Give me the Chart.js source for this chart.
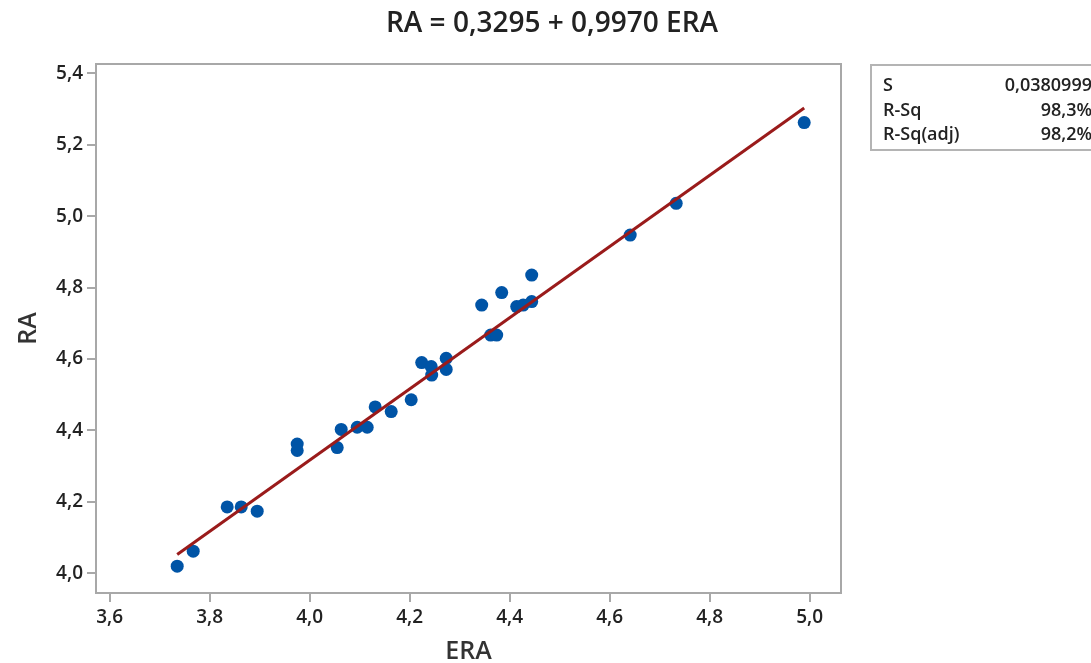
<!DOCTYPE html>
<html>
<head>
<meta charset="utf-8">
<script src="https://cdn.jsdelivr.net/npm/chart.js@4/dist/chart.umd.min.js"></script>
<style>
  body { margin: 0; background: #fff; overflow: hidden; }
  #wrap { position: relative; width: 1091px; height: 663px; }
  #stats {
    position: absolute; left: 870px; top: 64px; width: 240px; height: 87px;
    border: 2px solid #b4b4b4; box-sizing: border-box;
    font-family: "Open Sans", sans-serif; font-size: 18px; font-weight: 600; color: #222;
  }
  #stats table { border-collapse: collapse; margin-top: 6px; margin-left: 11px; }
  #stats td { padding: 0; height: 24.5px; line-height: 18px; }
  #stats td.v { text-align: right; width: 125px; }
</style>
</head>
<body>
<div id="wrap">
  <canvas id="chart"></canvas>
  <div id="stats">
    <table>
      <tr><td style="width:84px">S</td><td class="v">0,0380999</td></tr>
      <tr><td>R-Sq</td><td class="v">98,3%</td></tr>
      <tr><td>R-Sq(adj)</td><td class="v">98,2%</td></tr>
    </table>
  </div>
</div>
<script>
const era = [3.735, 3.767, 3.835, 3.863, 3.895, 3.975, 3.975, 4.055, 4.063, 4.095,
             4.115, 4.131, 4.163, 4.203, 4.224, 4.243, 4.244, 4.273, 4.273, 4.344,
             4.362, 4.374, 4.384, 4.414, 4.427, 4.444, 4.444, 4.641, 4.733, 4.989];
const ra  = [4.020, 4.062, 4.186, 4.186, 4.174, 4.362, 4.344, 4.352, 4.403, 4.409,
             4.409, 4.466, 4.453, 4.486, 4.590, 4.579, 4.555, 4.602, 4.571, 4.751,
             4.667, 4.667, 4.786, 4.747, 4.751, 4.761, 4.835, 4.947, 5.036, 5.262];

// fitted line end points  RA = 0,3295 + 0,9970 ERA
const fitEra = [3.735, 4.989];
const fitRa  = [4.053, 5.303];

const xTicks = [3.6, 3.8, 4.0, 4.2, 4.4, 4.6, 4.8, 5.0];
const yTicks = [4.0, 4.2, 4.4, 4.6, 4.8, 5.0, 5.2, 5.4];

const comma = v => v.toFixed(1).replace('.', ',');
const axisGray = '#a8a8a8';
const font = "'Open Sans', sans-serif";

// frame around the plot area (top and right sides too)
const frame = {
  id: 'frame',
  afterDraw(chart) {
    const a = chart.chartArea, ctx = chart.ctx;
    ctx.save();
    ctx.strokeStyle = axisGray;
    ctx.lineWidth = 2;
    ctx.strokeRect(a.left, a.top, a.right - a.left, a.bottom - a.top);
    ctx.restore();
  }
};

new Chart(document.getElementById('chart'), {
  type: 'scatter',
  data: {
    datasets: [
      {
        type: 'line',
        data: fitEra.map((x, i) => ({ x: x, y: fitRa[i] })),
        borderColor: '#9a1b1b',
        borderWidth: 3,
        pointRadius: 0,
        fill: false
      },
      {
        data: era.map((x, i) => ({ x: x, y: ra[i] })),
        backgroundColor: '#0054a6',
        borderWidth: 0,
        pointRadius: 6.5,
        pointHoverRadius: 6.5
      }
    ]
  },
  options: {
    responsive: true,
    maintainAspectRatio: false,
    animation: false,
    layout: { padding: { left: 13, right: 0, top: 0, bottom: 0 } },
    plugins: {
      legend: { display: false },
      tooltip: { enabled: false },
      title: {
        display: true,
        text: 'RA = 0,3295 + 0,9970 ERA',
        color: '#222',
        font: { family: font, size: 28, weight: '600', lineHeight: 1.2 },
        padding: { top: 7, bottom: 23.4 }
      }
    },
    scales: {
      x: {
        type: 'linear',
        min: 3.5726, max: 5.0626,
        afterBuildTicks: s => { s.ticks = xTicks.map(v => ({ value: v })); },
        afterFit: s => { s.height = 70; },
        grid: { drawOnChartArea: false, drawTicks: true, tickLength: 9, color: axisGray, lineWidth: 2 },
        border: { color: axisGray, width: 2 },
        ticks: { callback: v => comma(v), color: '#222', padding: 4, font: { family: font, size: 19, weight: '600' } },
        title: { display: true, text: 'ERA', color: '#333', padding: { top: 0, bottom: -1 },
                 font: { family: font, size: 25, weight: '600', lineHeight: 1 } }
      },
      y: {
        type: 'linear',
        min: 3.945, max: 5.426,
        afterBuildTicks: s => { s.ticks = yTicks.map(v => ({ value: v })); },
        afterFit: s => { s.width = 83; },
        grid: { drawOnChartArea: false, drawTicks: true, tickLength: 9, color: axisGray, lineWidth: 2 },
        border: { color: axisGray, width: 2 },
        ticks: { callback: v => comma(v), color: '#222', padding: 4, font: { family: font, size: 19, weight: '600' } },
        title: { display: true, text: 'RA', color: '#333', padding: { top: 3, bottom: 0 },
                 font: { family: font, size: 25, weight: '600', lineHeight: 1 } }
      },
      // empty right-hand strip that holds the statistics box
      side: {
        type: 'linear',
        position: 'right',
        display: true,
        afterFit: s => { s.width = 250; },
        grid: { display: false },
        border: { display: false },
        ticks: { display: false }
      }
    }
  },
  plugins: [frame]
});
</script>
</body>
</html>
